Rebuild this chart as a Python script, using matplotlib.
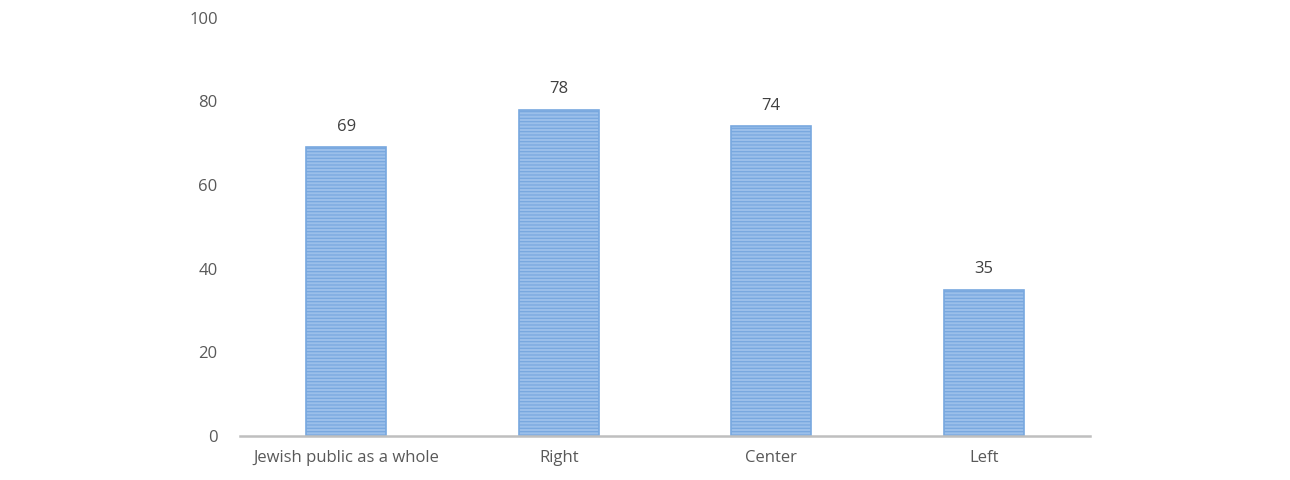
import matplotlib.pyplot as plt
import matplotlib as mpl

categories = ["Jewish public as a whole", "Right", "Center", "Left"]
values = [69, 78, 74, 35]

plt.rcParams["font.family"] = ["Open Sans", "DejaVu Sans"]
mpl.rcParams["hatch.color"] = "#C6DAF3"
mpl.rcParams["hatch.linewidth"] = 0.9

fig = plt.figure(figsize=(12.9, 4.8), dpi=100)
ax = fig.add_axes([0.186, 0.092, 0.659, 0.871])

x = range(len(categories))
ax.bar(x, values, width=0.376, color="#9BBFEA", edgecolor="#78A8DF",
       linewidth=1.2, hatch="-----")

for i, v in enumerate(values):
    ax.text(i, v + 3, str(v), ha="center", va="bottom", fontsize=12, color="#404040")

ax.set_xlim(-0.5, 3.5)
ax.set_ylim(0, 100)
ax.set_yticks([0, 20, 40, 60, 80, 100])
ax.set_xticks(list(x))
ax.set_xticklabels(categories)
ax.tick_params(axis="both", length=0, labelsize=12, labelcolor="#595959")
ax.tick_params(axis="y", pad=16)
ax.tick_params(axis="x", pad=10)

for s in ["top", "right", "left"]:
    ax.spines[s].set_visible(False)
ax.spines["bottom"].set_color("#BFBFBF")
ax.spines["bottom"].set_linewidth(1.8)

fig.savefig("out.png", dpi=100)
